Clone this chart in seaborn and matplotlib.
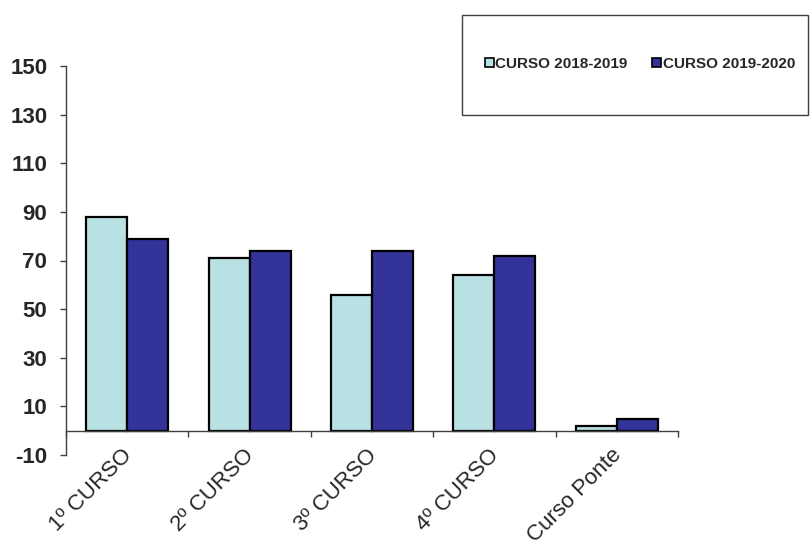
import matplotlib
matplotlib.use("Agg")
import matplotlib.pyplot as plt
import matplotlib.transforms as mtrans
from matplotlib.patches import Rectangle, Patch
import seaborn as sns
import pandas as pd
import numpy as np

categories = ["1º CURSO", "2º CURSO", "3º CURSO", "4º CURSO", "Curso Ponte"]
series_names = ["CURSO 2018-2019", "CURSO 2019-2020"]
values_2018 = [88, 71, 56, 64, 2]
values_2019 = [79, 74, 74, 72, 5]
y_ticks = [-10, 10, 30, 50, 70, 90, 110, 130, 150]
colors = ["#B9E0E3", "#333399"]

df = pd.DataFrame({
    "cat": categories * 2,
    "serie": [series_names[0]] * len(categories) + [series_names[1]] * len(categories),
    "val": values_2018 + values_2019,
})

sns.set_style("white")
plt.rcParams["font.family"] = ["Liberation Sans", "DejaVu Sans"]

fig = plt.figure(figsize=(8.11, 5.43), dpi=100)
ax = fig.add_axes([66 / 811, 1 - 455 / 543, (678 - 66) / 811, (455 - 66) / 543])

sns.barplot(data=df, x="cat", y="val", hue="serie", palette=colors, ax=ax,
            width=0.67, gap=0, edgecolor="black", linewidth=1.6,
            saturation=1, legend=False, errorbar=None)

ax.set_xlim(-0.5, len(categories) - 0.5)
ax.set_ylim(-10, 150)
ax.set_yticks(y_ticks)
ax.set_yticklabels([str(t) for t in y_ticks], fontsize=16, fontweight="bold")
ax.set_xlabel("")
ax.set_ylabel("")

for s in ["top", "right"]:
    ax.spines[s].set_visible(False)
ax.spines["bottom"].set_position(("data", 0))
for s in ["left", "bottom"]:
    ax.spines[s].set_color("#404040")
    ax.spines[s].set_linewidth(1.0)

ax.set_xticks(np.arange(-0.5, len(categories), 1.0))
ax.set_xticklabels([])
ax.tick_params(axis="x", bottom=True, direction="out", length=4.5, width=1, color="#404040")
ax.tick_params(axis="y", left=True, direction="out", length=4.5, width=1, color="#404040", pad=9)

offset = mtrans.ScaledTranslation(-6 / 100, -14 / 100, fig.dpi_scale_trans)
for i, c in enumerate(categories):
    ax.text(i, 0, c, rotation=45, ha="right", va="top", rotation_mode="anchor",
            fontsize=16, transform=ax.transData + offset, clip_on=False)

# legend box
fig.patches.append(Rectangle((462 / 811, 1 - 115 / 543), (808 - 462) / 811, 100 / 543,
                             transform=fig.transFigure, facecolor="white",
                             edgecolor="#404040", linewidth=1.0))
handles = [Patch(facecolor=colors[k], edgecolor="black", linewidth=1.2) for k in range(2)]
fig.legend(handles, series_names, loc="center", bbox_to_anchor=(640 / 811, 1 - 64 / 543),
           ncol=2, frameon=False, handlelength=0.6, handleheight=0.6, handletextpad=0.1,
           columnspacing=1.6, prop={"weight": "bold", "size": 11})

fig.savefig("out.png", dpi=100)
